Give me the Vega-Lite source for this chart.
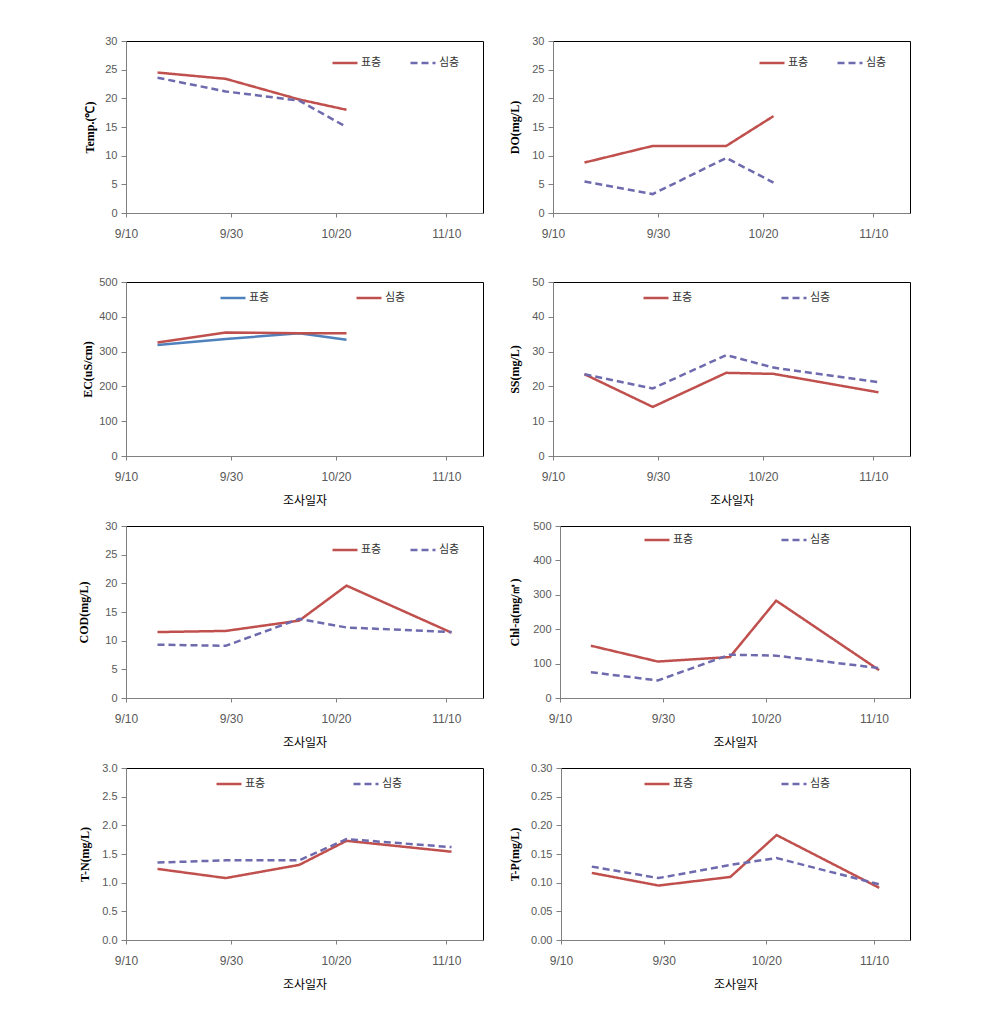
{
  "$schema": "https://vega.github.io/schema/vega-lite/v6.json",
  "padding": {"left": 77, "top": 34, "right": 5, "bottom": 5},
  "background": "white",
  "datasets": {
    "wq": [
      {"date": "2010/09/16", "layer": "표층", "temp": 24.5, "do": 8.8, "ec": 319, "ss": 23.5, "cod": 11.5, "chla": 152, "tn": 1.24, "tp": 0.117},
      {"date": "2010/09/16", "layer": "심층", "temp": 23.6, "do": 5.5, "ec": 326, "ss": 23.5, "cod": 9.3, "chla": 75, "tn": 1.35, "tp": 0.128},
      {"date": "2010/09/29", "layer": "표층", "temp": 23.4, "do": 11.7, "ec": 336, "ss": 14.1, "cod": 11.7, "chla": 106, "tn": 1.08, "tp": 0.095},
      {"date": "2010/09/29", "layer": "심층", "temp": 21.2, "do": 3.3, "ec": 355, "ss": 19.4, "cod": 9.1, "chla": 51, "tn": 1.39, "tp": 0.108},
      {"date": "2010/10/13", "layer": "표층", "temp": 19.8, "do": 11.7, "ec": 353, "ss": 23.9, "cod": 13.5, "chla": 119, "tn": 1.31, "tp": 0.110},
      {"date": "2010/10/13", "layer": "심층", "temp": 19.6, "do": 9.6, "ec": 353, "ss": 29.0, "cod": 13.8, "chla": 126, "tn": 1.39, "tp": 0.131},
      {"date": "2010/10/22", "layer": "표층", "temp": 18.0, "do": 16.9, "ec": 334, "ss": 23.6, "cod": 19.6, "chla": 283, "tn": 1.73, "tp": 0.183},
      {"date": "2010/10/22", "layer": "심층", "temp": 15.0, "do": 5.3, "ec": 353, "ss": 25.4, "cod": 12.3, "chla": 123, "tn": 1.76, "tp": 0.143},
      {"date": "2010/11/11", "layer": "표층", "temp": null, "do": null, "ec": null, "ss": 18.3, "cod": 11.4, "chla": 81, "tn": 1.54, "tp": 0.091},
      {"date": "2010/11/11", "layer": "심층", "temp": null, "do": null, "ec": null, "ss": 21.2, "cod": 11.5, "chla": 87, "tn": 1.62, "tp": 0.097}
    ]
  },
  "config": {
    "view": {"stroke": "#000000", "strokeWidth": 1},
    "axis": {"domainColor": "#808080", "tickColor": "#808080", "grid": false, "labelColor": "#595959", "labelFont": "Liberation Sans", "labelFlush": false, "labelOverlap": false, "titleColor": "#000000"},
    "axisY": {"labelFontSize": 11, "labelPadding": 4, "tickSize": 5, "titleFont": "Liberation Serif", "titleFontWeight": "bold", "titleFontSize": 12},
    "axisX": {"labelFontSize": 12, "labelPadding": 11, "tickSize": 4, "titleFont": "Noto Sans CJK KR", "titleFontWeight": "normal", "titleFontSize": 12, "titlePadding": 13},
    "legend": {"orient": "none", "direction": "horizontal", "symbolType": "stroke", "symbolSize": 625, "symbolStrokeWidth": 2.5, "labelFont": "Noto Sans CJK KR", "labelFontSize": 11, "labelColor": "#333333", "labelOffset": 2, "padding": 0}
  },
  "columns": 1,
  "spacing": 35,
  "resolve": {"scale": {"x": "independent", "y": "independent", "color": "independent", "strokeDash": "independent"}, "legend": {"color": "independent", "strokeDash": "independent"}, "axis": {"x": "independent", "y": "independent"}},
  "concat": [
    {
      "spacing": 24,
      "resolve": {"scale": {"x": "independent", "y": "independent", "color": "independent", "strokeDash": "independent"}, "legend": {"color": "independent", "strokeDash": "independent"}, "axis": {"x": "independent", "y": "independent"}},
      "hconcat": [
        {
          "width": 357, "height": 172, "data": {"name": "wq"},
          "mark": {"type": "line", "strokeWidth": 2.5},
          "encoding": {
            "x": {"field": "date", "type": "temporal", "scale": {"domain": [{"year": 2010, "month": 9, "date": 10}, {"year": 2010, "month": 11, "date": 17}], "nice": false}, "axis": {"values": [{"year": 2010, "month": 9, "date": 10}, {"year": 2010, "month": 9, "date": 30}, {"year": 2010, "month": 10, "date": 20}, {"year": 2010, "month": 11, "date": 10}], "labelExpr": "(month(datum.value)+1)+'/'+date(datum.value)", "title": null}},
            "y": {"field": "temp", "type": "quantitative", "scale": {"domain": [0, 30], "nice": false}, "axis": {"values": [0, 5, 10, 15, 20, 25, 30], "title": "Temp.(℃)", "titlePadding": 8}},
            "color": {"field": "layer", "type": "nominal", "scale": {"domain": ["표층", "심층"], "range": ["#C0504D", "#6E6AAE"]}, "legend": {"title": null, "orient": "none", "legendX": 205, "legendY": 8, "columnPadding": 23}},
            "strokeDash": {"field": "layer", "type": "nominal", "scale": {"domain": ["표층", "심층"], "range": [[1, 0], [7, 4]]}, "legend": {"title": null, "orient": "none", "legendX": 205, "legendY": 8, "columnPadding": 23}}
          }
        },
        {
          "width": 357, "height": 172, "data": {"name": "wq"},
          "mark": {"type": "line", "strokeWidth": 2.5},
          "encoding": {
            "x": {"field": "date", "type": "temporal", "scale": {"domain": [{"year": 2010, "month": 9, "date": 10}, {"year": 2010, "month": 11, "date": 17}], "nice": false}, "axis": {"values": [{"year": 2010, "month": 9, "date": 10}, {"year": 2010, "month": 9, "date": 30}, {"year": 2010, "month": 10, "date": 20}, {"year": 2010, "month": 11, "date": 10}], "labelExpr": "(month(datum.value)+1)+'/'+date(datum.value)", "title": null}},
            "y": {"field": "do", "type": "quantitative", "scale": {"domain": [0, 30], "nice": false}, "axis": {"values": [0, 5, 10, 15, 20, 25, 30], "title": "DO(mg/L)", "titlePadding": 10}},
            "color": {"field": "layer", "type": "nominal", "scale": {"domain": ["표층", "심층"], "range": ["#C0504D", "#6E6AAE"]}, "legend": {"title": null, "orient": "none", "legendX": 205, "legendY": 8, "columnPadding": 23}},
            "strokeDash": {"field": "layer", "type": "nominal", "scale": {"domain": ["표층", "심층"], "range": [[1, 0], [7, 4]]}, "legend": {"title": null, "orient": "none", "legendX": 205, "legendY": 8, "columnPadding": 23}}
          }
        }
      ]
    },
    {
      "columns": 1,
      "spacing": 12,
      "resolve": {"scale": {"x": "independent", "y": "independent", "color": "independent", "strokeDash": "independent"}, "legend": {"color": "independent", "strokeDash": "independent"}, "axis": {"x": "independent", "y": "independent"}},
      "concat": [
        {
          "spacing": 24,
          "resolve": {"scale": {"x": "independent", "y": "independent", "color": "independent", "strokeDash": "independent"}, "legend": {"color": "independent", "strokeDash": "independent"}, "axis": {"x": "independent", "y": "independent"}},
          "hconcat": [
            {
              "width": 357, "height": 174, "data": {"name": "wq"},
              "mark": {"type": "line", "strokeWidth": 2.5},
              "encoding": {
                "x": {"field": "date", "type": "temporal", "scale": {"domain": [{"year": 2010, "month": 9, "date": 10}, {"year": 2010, "month": 11, "date": 17}], "nice": false}, "axis": {"values": [{"year": 2010, "month": 9, "date": 10}, {"year": 2010, "month": 9, "date": 30}, {"year": 2010, "month": 10, "date": 20}, {"year": 2010, "month": 11, "date": 10}], "labelExpr": "(month(datum.value)+1)+'/'+date(datum.value)", "title": "조사일자"}},
                "y": {"field": "ec", "type": "quantitative", "scale": {"domain": [0, 500], "nice": false}, "axis": {"values": [0, 100, 200, 300, 400, 500], "title": "EC(uS/cm)", "titlePadding": 4}},
                "color": {"field": "layer", "type": "nominal", "scale": {"domain": ["표층", "심층"], "range": ["#4F81BD", "#C0504D"]}, "legend": {"title": null, "orient": "none", "legendX": 93, "legendY": 2, "columnPadding": 81}}
              }
            },
            {
              "width": 357, "height": 174, "data": {"name": "wq"},
              "mark": {"type": "line", "strokeWidth": 2.5},
              "encoding": {
                "x": {"field": "date", "type": "temporal", "scale": {"domain": [{"year": 2010, "month": 9, "date": 10}, {"year": 2010, "month": 11, "date": 17}], "nice": false}, "axis": {"values": [{"year": 2010, "month": 9, "date": 10}, {"year": 2010, "month": 9, "date": 30}, {"year": 2010, "month": 10, "date": 20}, {"year": 2010, "month": 11, "date": 10}], "labelExpr": "(month(datum.value)+1)+'/'+date(datum.value)", "title": "조사일자"}},
                "y": {"field": "ss", "type": "quantitative", "scale": {"domain": [0, 50], "nice": false}, "axis": {"values": [0, 10, 20, 30, 40, 50], "title": "SS(mg/L)", "titlePadding": 10}},
                "color": {"field": "layer", "type": "nominal", "scale": {"domain": ["표층", "심층"], "range": ["#C0504D", "#6E6AAE"]}, "legend": {"title": null, "orient": "none", "legendX": 89, "legendY": 2, "columnPadding": 83}},
                "strokeDash": {"field": "layer", "type": "nominal", "scale": {"domain": ["표층", "심층"], "range": [[1, 0], [7, 4]]}, "legend": {"title": null, "orient": "none", "legendX": 89, "legendY": 2, "columnPadding": 83}}
              }
            }
          ]
        },
        {
          "spacing": 24,
          "resolve": {"scale": {"x": "independent", "y": "independent", "color": "independent", "strokeDash": "independent"}, "legend": {"color": "independent", "strokeDash": "independent"}, "axis": {"x": "independent", "y": "independent"}},
          "hconcat": [
            {
              "width": 357, "height": 172, "data": {"name": "wq"},
              "mark": {"type": "line", "strokeWidth": 2.5},
              "encoding": {
                "x": {"field": "date", "type": "temporal", "scale": {"domain": [{"year": 2010, "month": 9, "date": 10}, {"year": 2010, "month": 11, "date": 17}], "nice": false}, "axis": {"values": [{"year": 2010, "month": 9, "date": 10}, {"year": 2010, "month": 9, "date": 30}, {"year": 2010, "month": 10, "date": 20}, {"year": 2010, "month": 11, "date": 10}], "labelExpr": "(month(datum.value)+1)+'/'+date(datum.value)", "title": "조사일자"}},
                "y": {"field": "cod", "type": "quantitative", "scale": {"domain": [0, 30], "nice": false}, "axis": {"values": [0, 5, 10, 15, 20, 25, 30], "title": "COD(mg/L)", "titlePadding": 14}},
                "color": {"field": "layer", "type": "nominal", "scale": {"domain": ["표층", "심층"], "range": ["#C0504D", "#6E6AAE"]}, "legend": {"title": null, "orient": "none", "legendX": 205, "legendY": 10, "columnPadding": 23}},
                "strokeDash": {"field": "layer", "type": "nominal", "scale": {"domain": ["표층", "심층"], "range": [[1, 0], [7, 4]]}, "legend": {"title": null, "orient": "none", "legendX": 205, "legendY": 10, "columnPadding": 23}}
              }
            },
            {
              "width": 350, "height": 172, "data": {"name": "wq"},
              "mark": {"type": "line", "strokeWidth": 2.5},
              "encoding": {
                "x": {"field": "date", "type": "temporal", "scale": {"domain": [{"year": 2010, "month": 9, "date": 10}, {"year": 2010, "month": 11, "date": 17}], "nice": false}, "axis": {"values": [{"year": 2010, "month": 9, "date": 10}, {"year": 2010, "month": 9, "date": 30}, {"year": 2010, "month": 10, "date": 20}, {"year": 2010, "month": 11, "date": 10}], "labelExpr": "(month(datum.value)+1)+'/'+date(datum.value)", "title": "조사일자"}},
                "y": {"field": "chla", "type": "quantitative", "scale": {"domain": [0, 500], "nice": false}, "axis": {"values": [0, 100, 200, 300, 400, 500], "title": "Chl-a(mg/㎥)", "titlePadding": 11}},
                "color": {"field": "layer", "type": "nominal", "scale": {"domain": ["표층", "심층"], "range": ["#C0504D", "#6E6AAE"]}, "legend": {"title": null, "orient": "none", "legendX": 83, "legendY": 0, "columnPadding": 82}},
                "strokeDash": {"field": "layer", "type": "nominal", "scale": {"domain": ["표층", "심층"], "range": [[1, 0], [7, 4]]}, "legend": {"title": null, "orient": "none", "legendX": 83, "legendY": 0, "columnPadding": 82}}
              }
            }
          ]
        },
        {
          "spacing": 24,
          "resolve": {"scale": {"x": "independent", "y": "independent", "color": "independent", "strokeDash": "independent"}, "legend": {"color": "independent", "strokeDash": "independent"}, "axis": {"x": "independent", "y": "independent"}},
          "hconcat": [
            {
              "width": 357, "height": 172, "data": {"name": "wq"},
              "mark": {"type": "line", "strokeWidth": 2.5},
              "encoding": {
                "x": {"field": "date", "type": "temporal", "scale": {"domain": [{"year": 2010, "month": 9, "date": 10}, {"year": 2010, "month": 11, "date": 17}], "nice": false}, "axis": {"values": [{"year": 2010, "month": 9, "date": 10}, {"year": 2010, "month": 9, "date": 30}, {"year": 2010, "month": 10, "date": 20}, {"year": 2010, "month": 11, "date": 10}], "labelExpr": "(month(datum.value)+1)+'/'+date(datum.value)", "title": "조사일자"}},
                "y": {"field": "tn", "type": "quantitative", "scale": {"domain": [0, 3], "nice": false}, "axis": {"values": [0, 0.5, 1, 1.5, 2, 2.5, 3], "format": ".1f", "title": "T-N(mg/L)", "titlePadding": 10}},
                "color": {"field": "layer", "type": "nominal", "scale": {"domain": ["표층", "심층"], "range": ["#C0504D", "#6E6AAE"]}, "legend": {"title": null, "orient": "none", "legendX": 89, "legendY": 2, "columnPadding": 82}},
                "strokeDash": {"field": "layer", "type": "nominal", "scale": {"domain": ["표층", "심층"], "range": [[1, 0], [7, 4]]}, "legend": {"title": null, "orient": "none", "legendX": 89, "legendY": 2, "columnPadding": 82}}
              }
            },
            {
              "width": 349, "height": 172, "data": {"name": "wq"},
              "mark": {"type": "line", "strokeWidth": 2.5},
              "encoding": {
                "x": {"field": "date", "type": "temporal", "scale": {"domain": [{"year": 2010, "month": 9, "date": 10}, {"year": 2010, "month": 11, "date": 17}], "nice": false}, "axis": {"values": [{"year": 2010, "month": 9, "date": 10}, {"year": 2010, "month": 9, "date": 30}, {"year": 2010, "month": 10, "date": 20}, {"year": 2010, "month": 11, "date": 10}], "labelExpr": "(month(datum.value)+1)+'/'+date(datum.value)", "title": "조사일자"}},
                "y": {"field": "tp", "type": "quantitative", "scale": {"domain": [0, 0.3], "nice": false}, "axis": {"values": [0, 0.05, 0.1, 0.15, 0.2, 0.25, 0.3], "format": ".2f", "title": "T-P(mg/L)", "titlePadding": 9}},
                "color": {"field": "layer", "type": "nominal", "scale": {"domain": ["표층", "심층"], "range": ["#C0504D", "#6E6AAE"]}, "legend": {"title": null, "orient": "none", "legendX": 82, "legendY": 2, "columnPadding": 82}},
                "strokeDash": {"field": "layer", "type": "nominal", "scale": {"domain": ["표층", "심층"], "range": [[1, 0], [7, 4]]}, "legend": {"title": null, "orient": "none", "legendX": 82, "legendY": 2, "columnPadding": 82}}
              }
            }
          ]
        }
      ]
    }
  ]
}
